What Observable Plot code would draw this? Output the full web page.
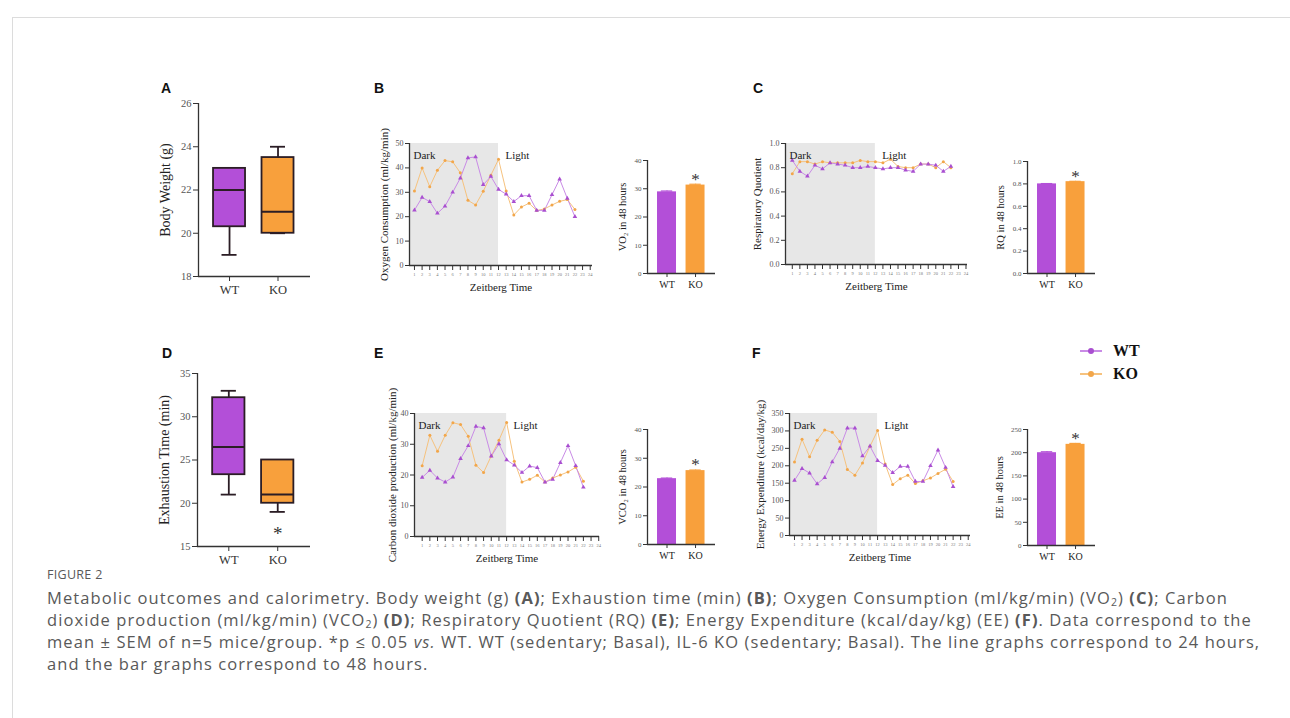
<!DOCTYPE html>
<html>
<head>
<meta charset="utf-8">
<script src="https://cdn.jsdelivr.net/npm/d3@7"></script>
<script src="https://cdn.jsdelivr.net/npm/@observablehq/plot@0.6"></script>
<style>
  html, body { margin: 0; padding: 0; background: #fff; }
  #root { position: relative; width: 1290px; height: 718px; overflow: hidden; background: #fff; }
  .frameline { position: absolute; left: 12px; top: 17px; width: 1290px; height: 720px; border-top: 1px solid #dcdcdc; border-left: 1px solid #dcdcdc; }
  .letter { position: absolute; font-family: 'Liberation Sans', Arial, sans-serif; font-weight: bold; font-size: 14px; color: #111; line-height: 1; }
  .legend { position: absolute; font-family: 'Liberation Serif', serif; font-weight: bold; font-size: 16px; color: #111; }
  .legrow { position: absolute; display: flex; align-items: center; white-space: nowrap; }
  .legline { width: 22px; height: 1.5px; position: relative; margin-right: 11px; }
  .legmark { position: absolute; left: 8px; top: -2.5px; width: 6px; height: 6px; border-radius: 3px; }
  .caption { position: absolute; left: 47px; font-family: 'Open Sans', sans-serif; color: #595959; white-space: nowrap; }
  .figlab { top: 566px; font-size: 12.5px; letter-spacing: 0.3px; }
  .capline { font-size: 16.5px; line-height: 22px; height: 22px; }
  .sub2 { font-size: 10.5px; line-height: 10px; position: relative; top: 2px; }
</style>
</head>
<body>
<div id="root"><div class="frameline"></div></div>
<script>
// ---------------- DATA ----------------
const groups = ["WT", "KO"];
// Box plots (min, Q1, median, Q3, max)
const weightMin = [19, 20];
const weightQ1 = [20.3, 20];
const weightMed = [22, 21];
const weightQ3 = [23, 23.5];
const weightMax = [23, 24];
const exhMin = [21, 19];
const exhQ1 = [23.3, 20];
const exhMed = [26.5, 21];
const exhQ3 = [32.2, 25];
const exhMax = [33, 25];

// Line graphs (Zeitberg time)
const hours = [1, 2, 3, 4, 5, 6, 7, 8, 9, 10, 11, 12, 13, 14, 15, 16, 17, 18, 19, 20, 21, 22];
const hourTicks = [1, 2, 3, 4, 5, 6, 7, 8, 9, 10, 11, 12, 13, 14, 15, 16, 17, 18, 19, 20, 21, 22, 23, 24];
const vo2WT = [22.7, 27.9, 26.2, 21.4, 24.3, 30.0, 35.8, 44.1, 44.5, 33.1, 36.5, 31.2, 29.2, 26.2, 28.6, 28.6, 22.6, 22.6, 29.0, 35.4, 27.5, 20.0];
const vo2KO = [30.5, 40.0, 32.3, 39.0, 43.0, 42.5, 38.0, 26.7, 24.8, 30.4, 37.0, 43.5, 30.5, 20.7, 24.0, 25.5, 22.5, 23.2, 24.8, 26.3, 27.0, 23.0];
const rqWT = [0.86, 0.77, 0.73, 0.82, 0.79, 0.84, 0.83, 0.82, 0.80, 0.80, 0.81, 0.80, 0.79, 0.80, 0.80, 0.78, 0.77, 0.83, 0.83, 0.82, 0.77, 0.81];
const rqKO = [0.75, 0.85, 0.85, 0.83, 0.85, 0.84, 0.84, 0.84, 0.84, 0.86, 0.85, 0.85, 0.84, 0.87, 0.81, 0.80, 0.80, 0.83, 0.83, 0.80, 0.85, 0.80];
const vco2WT = [19.2, 21.5, 19.0, 17.7, 19.3, 25.3, 29.5, 35.8, 35.3, 26.1, 30.1, 24.9, 23.2, 20.8, 22.9, 22.4, 17.7, 18.6, 24.0, 29.5, 23.0, 16.0];
const vco2KO = [23.0, 32.9, 27.7, 32.9, 37.0, 36.4, 32.6, 23.2, 20.8, 26.2, 31.3, 37.1, 24.5, 17.7, 18.6, 19.9, 17.7, 19.0, 20.0, 21.0, 22.5, 18.0];
const eeWT = [158, 192, 179, 148, 166, 211, 250, 308, 308, 228, 256, 215, 201, 180, 198, 198, 155, 155, 200, 245, 195, 140];
const eeKO = [211, 276, 226, 273, 303, 296, 270, 189, 173, 208, 256, 301, 205, 146, 163, 173, 149, 157, 165, 178, 190, 155];
const darkEnd = 12;

// Bar graphs (48 hours, mean and SEM)
const vo2Bar = [28.9, 31.3];
const vo2Sem = [0.3, 0.3];
const rqBar = [0.80, 0.82];
const rqSem = [0.003, 0.003];
const vco2Bar = [22.9, 25.7];
const vco2Sem = [0.2, 0.2];
const eeBar = [200, 218];
const eeSem = [2, 2];
const significant = [false, true];

// ---------------- STYLE ----------------
const serif = "'Liberation Serif', 'Times New Roman', serif";
const fillColor = {WT: "#b34fd8", KO: "#f8a03c"};
const lineColor = {WT: "#c98be6", KO: "#f6c27e"};
const markColor = {WT: "#a94fd0", KO: "#f2a64a"};
const boxStroke = "#2b1d25";
const axisColor = "#333";
const root = document.getElementById("root");

function place(node, left, top) {
  node.style.position = "absolute";
  node.style.left = left + "px";
  node.style.top = top + "px";
  root.appendChild(node);
}

function baseStyle() {
  return {fontFamily: serif, background: "transparent", overflow: "visible", color: axisColor};
}

function yTitle(title, dx, fontSize) {
  return Plot.text([title], {frameAnchor: "left", rotate: -90, textAnchor: "middle", lineAnchor: "middle", dx, fontSize, fill: "#222"});
}

// ---------------- BOX PANELS ----------------
function boxPanel(o) {
  const mL = 58, mT = 10, mB = 30, mR = 20;
  const rows = groups.map((g, i) => ({g, x: i + 1, min: o.min[i], q1: o.q1[i], med: o.med[i], q3: o.q3[i], max: o.max[i], fill: fillColor[g]}));
  const hw = 0.33, cw = 0.155;
  const x0 = 0.36;
  const svg = Plot.plot({
    width: mL + o.fw + mR, height: mT + o.fh + mB,
    marginLeft: mL, marginTop: mT, marginBottom: mB, marginRight: mR,
    style: baseStyle(),
    x: {domain: [x0, 2.67], axis: null},
    y: {domain: o.yDomain, axis: null},
    color: {type: "identity"},
    marks: [
      Plot.ruleX(rows, {x: "x", y1: "min", y2: "q1", stroke: boxStroke, strokeWidth: 1.8}),
      Plot.ruleX(rows, {x: "x", y1: "q3", y2: "max", stroke: boxStroke, strokeWidth: 1.8}),
      Plot.ruleY(rows, {y: "min", x1: d => d.x - cw, x2: d => d.x + cw, stroke: boxStroke, strokeWidth: 1.8}),
      Plot.ruleY(rows, {y: "max", x1: d => d.x - cw, x2: d => d.x + cw, stroke: boxStroke, strokeWidth: 1.8}),
      Plot.rect(rows, {x1: d => d.x - hw, x2: d => d.x + hw, y1: "q1", y2: "q3", fill: "fill", stroke: boxStroke, strokeWidth: 1.8}),
      Plot.ruleY(rows, {y: "med", x1: d => d.x - hw, x2: d => d.x + hw, stroke: boxStroke, strokeWidth: 2}),
      Plot.ruleX([x0], {stroke: axisColor, strokeWidth: 1.3}),
      Plot.ruleY([o.yDomain[0]], {stroke: axisColor, strokeWidth: 1.3}),
      Plot.axisY({ticks: o.yTicks, tickSize: 5, tickPadding: 2, label: null, fontSize: 10.5, fill: "#555"}),
      Plot.axisX({ticks: [1, 2], tickFormat: d => groups[d - 1], tickSize: 5, tickPadding: 4, label: null, fontSize: 12.5}),
      yTitle(o.title, -33, 14),
      ...(o.star ? [Plot.text(rows.filter((d, i) => o.star[i]), {x: "x", y: "min", text: () => "*", dy: 22, fontSize: 19, fill: "#333"})] : [])
    ]
  });
  place(svg, o.frameLeft - mL, o.frameTop - mT);
}

// ---------------- LINE PANELS ----------------
function linePanel(o) {
  const mL = 50, mT = 12, mB = 36, mR = 6;
  const rows = [];
  hours.forEach((h, i) => {
    rows.push({g: "WT", h, v: o.wt[i]});
    rows.push({g: "KO", h, v: o.ko[i]});
  });
  const svg = Plot.plot({
    width: mL + o.fw + mR, height: mT + o.fh + mB,
    marginLeft: mL, marginTop: mT, marginBottom: mB, marginRight: mR,
    style: baseStyle(),
    x: {domain: o.xDomain, axis: null},
    y: {domain: o.yDomain, axis: null},
    color: {type: "identity"},
    marks: [
      Plot.rect([o.yDomain], {x1: () => o.xDomain[0], x2: () => darkEnd, y1: d => d[0], y2: d => d[1], fill: "#e7e7e7"}),
      Plot.line(rows.filter(d => d.g === "KO"), {x: "h", y: "v", stroke: lineColor.KO, strokeWidth: 1}),
      Plot.line(rows.filter(d => d.g === "WT"), {x: "h", y: "v", stroke: lineColor.WT, strokeWidth: 1}),
      Plot.dot(rows.filter(d => d.g === "KO"), {x: "h", y: "v", fill: markColor.KO, r: 1.5}),
      Plot.dot(rows.filter(d => d.g === "WT"), {x: "h", y: "v", fill: markColor.WT, r: 1.7, symbol: "triangle"}),
      Plot.text(["Dark"], {frameAnchor: "top-left", dx: 4, dy: 8, fontSize: 11, fill: "#222", textAnchor: "start"}),
      Plot.text(["Light"], {x: () => darkEnd, frameAnchor: "top", dx: 7, dy: 8, fontSize: 11, fill: "#222", textAnchor: "start"}),
      Plot.ruleX([o.xDomain[0]], {stroke: axisColor, strokeWidth: 1.3}),
      Plot.ruleY([o.yDomain[0]], {stroke: axisColor, strokeWidth: 1.3}),
      Plot.axisY({ticks: o.yTicks, tickFormat: o.yFmt, tickSize: 4, tickPadding: 2, label: null, fontSize: 8, fill: "#555"}),
      Plot.axisX({ticks: hourTicks, tickSize: 5, tickPadding: 2, label: null, fontSize: 4.5, fill: "#777"}),
      Plot.text(["Zeitberg Time"], {frameAnchor: "bottom", textAnchor: "middle", dy: 25, fontSize: 11, fill: "#222"}),
      yTitle(o.title, o.titleDx, 11)
    ]
  });
  place(svg, o.frameLeft - mL, o.frameTop - mT);
}

// ---------------- BAR PANELS ----------------
function barPanel(o) {
  const mL = 42, mT = 12, mB = 24, mR = 6;
  const rows = groups.map((g, i) => ({g, x: i + 1, v: o.vals[i], sem: o.sems[i], fill: fillColor[g], star: significant[i]}));
  const hw = 0.333, cw = 0.2;
  const x0 = 0.316;
  const svg = Plot.plot({
    width: mL + o.fw + mR, height: mT + o.fh + mB,
    marginLeft: mL, marginTop: mT, marginBottom: mB, marginRight: mR,
    style: baseStyle(),
    x: {domain: [x0, 2.7], axis: null},
    y: {domain: o.yDomain, axis: null},
    color: {type: "identity"},
    marks: [
      Plot.rectY(rows, {x1: d => d.x - hw, x2: d => d.x + hw, y: "v", fill: "fill"}),
      Plot.ruleX(rows, {x: "x", y1: "v", y2: d => d.v + d.sem, stroke: "fill", strokeWidth: 1.2}),
      Plot.ruleY(rows, {y: d => d.v + d.sem, x1: d => d.x - cw, x2: d => d.x + cw, stroke: "fill", strokeWidth: 1.2}),
      Plot.text(rows.filter(d => d.star), {x: "x", y: d => d.v + d.sem, text: () => "*", dy: -5, fontSize: 17, fill: "#333"}),
      Plot.ruleX([x0], {stroke: axisColor, strokeWidth: 1.3}),
      Plot.ruleY([o.yDomain[0]], {stroke: axisColor, strokeWidth: 1.3}),
      Plot.axisY({ticks: o.yTicks, tickFormat: o.yFmt, tickSize: 4, tickPadding: 2, label: null, fontSize: 7, fill: "#555"}),
      Plot.axisX({ticks: [1, 2], tickFormat: d => groups[d - 1], tickSize: 4, tickPadding: 3, label: null, fontSize: 10, fill: "#222"}),
      yTitle(o.title, o.titleDx, 10.5)
    ]
  });
  place(svg, o.frameLeft - mL, o.frameTop - mT);
}

// ---------------- BUILD ----------------
boxPanel({min: weightMin, q1: weightQ1, med: weightMed, q3: weightQ3, max: weightMax,
  yDomain: [18, 26], yTicks: [18, 20, 22, 24, 26], title: "Body Weight (g)",
  frameLeft: 198, frameTop: 103, fw: 112, fh: 173});
boxPanel({min: exhMin, q1: exhQ1, med: exhMed, q3: exhQ3, max: exhMax,
  yDomain: [15, 35], yTicks: [15, 20, 25, 30, 35], title: "Exhaustion Time (min)",
  frameLeft: 197, frameTop: 373, fw: 113, fh: 173, star: significant});

const f0 = d3.format(".0f"), f1 = d3.format(".1f");
linePanel({wt: vo2WT, ko: vo2KO, yDomain: [0, 50], yTicks: [0, 10, 20, 30, 40, 50], yFmt: f0,
  title: "Oxygen Consumption (ml/kg/min)", titleDx: -25,
  frameLeft: 409, frameTop: 143, fw: 183, fh: 122, xDomain: [0.35, 24.3]});
linePanel({wt: rqWT, ko: rqKO, yDomain: [0, 1], yTicks: [0, 0.2, 0.4, 0.6, 0.8, 1.0], yFmt: f1,
  title: "Respiratory Quotient", titleDx: -28,
  frameLeft: 785, frameTop: 143, fw: 182, fh: 121, xDomain: [0.1, 24.2]});
linePanel({wt: vco2WT, ko: vco2KO, yDomain: [0, 40], yTicks: [0, 10, 20, 30, 40], yFmt: f0,
  title: "Carbon dioxide production (ml/kg/min)", titleDx: -22,
  frameLeft: 414, frameTop: 413, fw: 185, fh: 123, xDomain: [0, 24.1]});
linePanel({wt: eeWT, ko: eeKO, yDomain: [0, 350], yTicks: [0, 50, 100, 150, 200, 250, 300, 350], yFmt: f0,
  title: "Energy Expenditure (kcal/day/kg)", titleDx: -29,
  frameLeft: 789, frameTop: 413, fw: 181, fh: 122, xDomain: [0.34, 24.3]});

barPanel({vals: vo2Bar, sems: vo2Sem, yDomain: [0, 40], yTicks: [0, 10, 20, 30, 40], yFmt: f0,
  title: "VO₂ in 48 hours", titleDx: -25, frameLeft: 647, frameTop: 160, fw: 68, fh: 113});
barPanel({vals: rqBar, sems: rqSem, yDomain: [0, 1], yTicks: [0, 0.2, 0.4, 0.6, 0.8, 1.0], yFmt: f1,
  title: "RQ in 48 hours", titleDx: -27, frameLeft: 1027, frameTop: 161, fw: 68, fh: 112});
barPanel({vals: vco2Bar, sems: vco2Sem, yDomain: [0, 40], yTicks: [0, 10, 20, 30, 40], yFmt: f0,
  title: "VCO₂ in 48 hours", titleDx: -25, frameLeft: 647, frameTop: 429, fw: 68, fh: 115});
barPanel({vals: eeBar, sems: eeSem, yDomain: [0, 250], yTicks: [0, 50, 100, 150, 200, 250], yFmt: f0,
  title: "EE in 48 hours", titleDx: -28, frameLeft: 1027, frameTop: 429, fw: 68, fh: 116});

// Panel letters
const letters = [["A", 161, 83], ["B", 374, 83], ["C", 753, 83], ["D", 162, 348], ["E", 374, 348], ["F", 752, 348]];
letters.forEach(([t, x, y]) => {
  const d = document.createElement("div");
  d.className = "letter"; d.textContent = t;
  d.style.left = x + "px"; d.style.top = (y - 2) + "px";
  root.appendChild(d);
});

// Legend
[["WT", 351], ["KO", 374]].forEach(([g, y]) => {
  const row = document.createElement("div");
  row.className = "legrow legend";
  row.style.left = "1080px"; row.style.top = (y - 10) + "px"; row.style.height = "20px";
  const line = document.createElement("div");
  line.className = "legline"; line.style.background = lineColor[g];
  const mk = document.createElement("div");
  mk.className = "legmark"; mk.style.background = markColor[g];
  line.appendChild(mk);
  row.appendChild(line);
  const t = document.createElement("span"); t.textContent = g;
  row.appendChild(t);
  root.appendChild(row);
});

// Caption
const fl = document.createElement("div");
fl.className = "caption figlab"; fl.textContent = "FIGURE 2";
root.appendChild(fl);
const capLines = [
  'Metabolic outcomes and calorimetry. Body weight (g) <b>(A)</b>; Exhaustion time (min) <b>(B)</b>; Oxygen Consumption (ml/kg/min) (VO<span class="sub2">2</span>) <b>(C)</b>; Carbon',
  'dioxide production (ml/kg/min) (VCO<span class="sub2">2</span>) <b>(D)</b>; Respiratory Quotient (RQ) <b>(E)</b>; Energy Expenditure (kcal/day/kg) (EE) <b>(F)</b>. Data correspond to the',
  'mean ± SEM of n=5 mice/group. *p ≤ 0.05 <i>vs.</i> WT. WT (sedentary; Basal), IL-6 KO (sedentary; Basal). The line graphs correspond to 24 hours,',
  'and the bar graphs correspond to 48 hours.'
];
const capDivs = capLines.map((h, i) => {
  const d = document.createElement("div");
  d.className = "caption capline";
  d.style.top = (587 + i * 22) + "px";
  d.innerHTML = h;
  root.appendChild(d);
  return d;
});
// spread letters so the first line spans the same width as in the figure
const w0 = capDivs[0].getBoundingClientRect().width;
const n0 = capDivs[0].textContent.length;
const ls = Math.max(0, (1181 - w0) / n0);
capDivs.forEach(d => { d.style.letterSpacing = ls.toFixed(3) + "px"; });
</script>
</body>
</html>
